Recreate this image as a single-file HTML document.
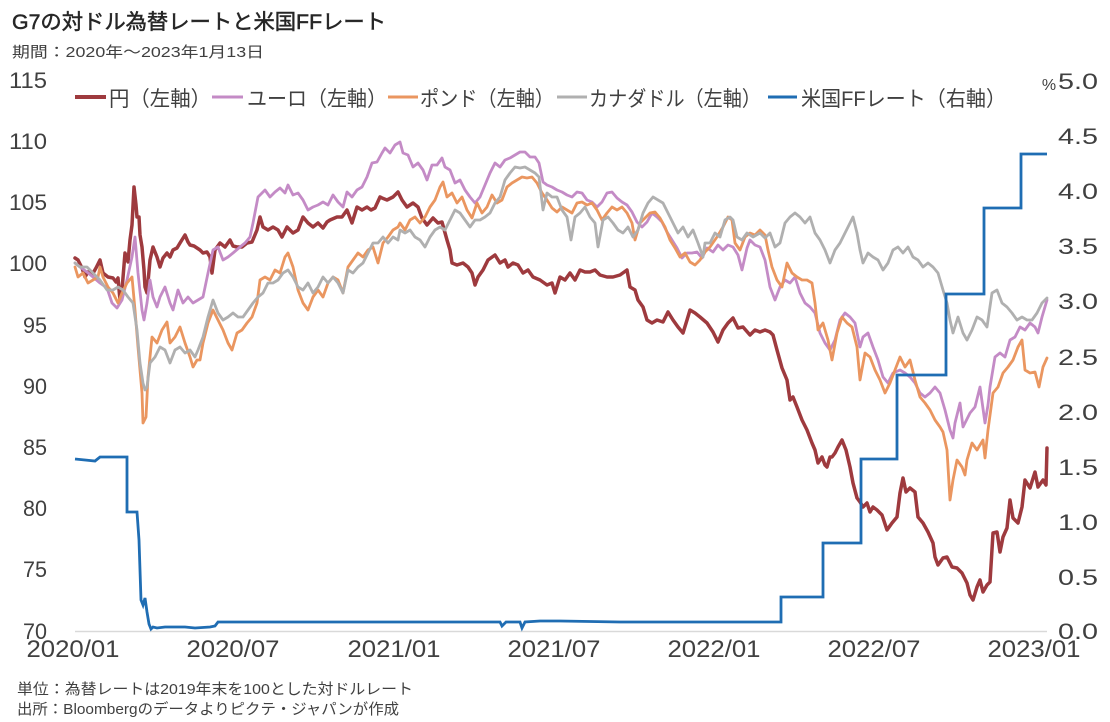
<!DOCTYPE html>
<html><head><meta charset="utf-8"><style>
html,body{margin:0;padding:0;background:#fff;}
svg{display:block;}
text{font-family:"Liberation Sans","Noto Sans CJK JP",sans-serif;fill:#404040;}
</style></head><body>
<svg width="1110" height="722" viewBox="0 0 1110 722" xmlns="http://www.w3.org/2000/svg">
<rect width="1110" height="722" fill="#fff"/>
<text x="12" y="29" font-size="21" style="fill:#262626;stroke:#262626;stroke-width:0.5" textLength="374" lengthAdjust="spacingAndGlyphs">G7の対ドル為替レートと米国FFレート</text>
<text x="12" y="57" font-size="15" textLength="252" lengthAdjust="spacingAndGlyphs">期間：2020年～2023年1月13日</text>

<g font-size="22" text-anchor="end">
<text x="47" y="88" textLength="38" lengthAdjust="spacingAndGlyphs">115</text>
<text x="47" y="149" textLength="38" lengthAdjust="spacingAndGlyphs">110</text>
<text x="47" y="210" textLength="38" lengthAdjust="spacingAndGlyphs">105</text>
<text x="47" y="271" textLength="38" lengthAdjust="spacingAndGlyphs">100</text>
<text x="47" y="333" textLength="24" lengthAdjust="spacingAndGlyphs">95</text>
<text x="47" y="394" textLength="24" lengthAdjust="spacingAndGlyphs">90</text>
<text x="47" y="455" textLength="24" lengthAdjust="spacingAndGlyphs">85</text>
<text x="47" y="516" textLength="24" lengthAdjust="spacingAndGlyphs">80</text>
<text x="47" y="577" textLength="24" lengthAdjust="spacingAndGlyphs">75</text>
<text x="47" y="639" textLength="24" lengthAdjust="spacingAndGlyphs">70</text>
</g>
<g font-size="22">
<text x="1058" y="89" textLength="40" lengthAdjust="spacingAndGlyphs">5.0</text>
<text x="1058" y="144" textLength="40" lengthAdjust="spacingAndGlyphs">4.5</text>
<text x="1058" y="199" textLength="40" lengthAdjust="spacingAndGlyphs">4.0</text>
<text x="1058" y="254" textLength="40" lengthAdjust="spacingAndGlyphs">3.5</text>
<text x="1058" y="309" textLength="40" lengthAdjust="spacingAndGlyphs">3.0</text>
<text x="1058" y="365" textLength="40" lengthAdjust="spacingAndGlyphs">2.5</text>
<text x="1058" y="420" textLength="40" lengthAdjust="spacingAndGlyphs">2.0</text>
<text x="1058" y="475" textLength="40" lengthAdjust="spacingAndGlyphs">1.5</text>
<text x="1058" y="530" textLength="40" lengthAdjust="spacingAndGlyphs">1.0</text>
<text x="1058" y="585" textLength="40" lengthAdjust="spacingAndGlyphs">0.5</text>
<text x="1058" y="639" textLength="40" lengthAdjust="spacingAndGlyphs">0.0</text>
</g>
<text x="1049" y="90" font-size="16" text-anchor="middle">%</text>

<g font-size="24" text-anchor="middle">
<text x="73" y="657" textLength="93" lengthAdjust="spacingAndGlyphs">2020/01</text>
<text x="233" y="657" textLength="93" lengthAdjust="spacingAndGlyphs">2020/07</text>
<text x="394" y="657" textLength="93" lengthAdjust="spacingAndGlyphs">2021/01</text>
<text x="554" y="657" textLength="93" lengthAdjust="spacingAndGlyphs">2021/07</text>
<text x="714" y="657" textLength="93" lengthAdjust="spacingAndGlyphs">2022/01</text>
<text x="874" y="657" textLength="93" lengthAdjust="spacingAndGlyphs">2022/07</text>
<text x="1034" y="657" textLength="93" lengthAdjust="spacingAndGlyphs">2023/01</text>
</g>

<text x="17" y="694" font-size="15" textLength="396" lengthAdjust="spacingAndGlyphs">単位：為替レートは2019年末を100とした対ドルレート</text>
<text x="17" y="714" font-size="15" textLength="382" lengthAdjust="spacingAndGlyphs">出所：Bloombergのデータよりピクテ・ジャパンが作成</text>

<!-- legend -->
<g font-size="21">
<line x1="75" y1="97" x2="106" y2="97" stroke="#9e3a3e" stroke-width="4"/>
<text x="109" y="106" textLength="102" lengthAdjust="spacingAndGlyphs">円（左軸）</text>
<line x1="212" y1="97" x2="243" y2="97" stroke="#c48bc6" stroke-width="3"/>
<text x="247" y="106" textLength="140" lengthAdjust="spacingAndGlyphs">ユーロ（左軸）</text>
<line x1="388" y1="97" x2="418" y2="97" stroke="#ea9660" stroke-width="3"/>
<text x="420" y="106" textLength="134" lengthAdjust="spacingAndGlyphs">ポンド（左軸）</text>
<line x1="557" y1="97" x2="587" y2="97" stroke="#b0b0b0" stroke-width="3"/>
<text x="589" y="106" textLength="172" lengthAdjust="spacingAndGlyphs">カナダドル（左軸）</text>
<line x1="768" y1="97" x2="797" y2="97" stroke="#1f6db3" stroke-width="3"/>
<text x="801" y="106" textLength="205" lengthAdjust="spacingAndGlyphs">米国FFレート（右軸）</text>
</g>

<!-- baseline -->
<line x1="75" y1="631.5" x2="1047" y2="631.5" stroke="#d9d9d9" stroke-width="1.5"/>

<g fill="none" stroke-linejoin="round" stroke-linecap="round">
<!-- Yen -->
<polyline stroke="#9e3a3e" stroke-width="3.5" points="75,258 78,260 82,268 85,277 88,272 92,275 96,268 100,260 103,273 108,277 113,278 116,282 118,278 120,300 122,290 125,253 128,262 130,240 132,225 134,187 136,205 137,217 139,217 140,235 142,247 144,270 145,287 147,293 150,260 153,247 157,257 160,267 163,258 167,253 170,257 173,250 177,248 180,243 185,235 188,242 190,245 194,246 197,248 200,250 203,253 207,252 210,257 212,273 215,250 220,243 225,247 230,240 233,246 237,247 242,247 247,243 252,242 257,230 260,217 263,227 268,230 273,227 278,230 282,237 287,227 293,233 298,230 303,217 308,223 313,227 318,223 323,228 327,222 330,220 337,217 342,217 347,210 352,223 357,207 362,210 367,207 371,210 375,208 380,197 382,198 387,200 393,197 398,192 402,200 407,207 413,203 418,207 422,218 427,225 433,218 438,223 442,222 447,240 450,250 452,263 457,265 463,263 468,267 472,273 475,285 478,277 483,270 488,260 495,255 500,263 505,260 508,267 513,263 518,265 523,273 528,270 533,277 540,280 547,285 552,283 555,293 560,277 565,280 570,273 575,280 580,270 585,272 590,272 595,270 600,275 607,277 613,277 620,275 627,270 630,287 635,290 638,300 643,307 647,320 652,323 657,320 663,322 668,312 673,320 678,327 683,333 687,320 690,310 695,313 700,317 707,323 713,332 718,342 723,330 728,323 733,318 738,328 743,327 750,335 755,330 760,332 765,330 770,332 773,335 777,350 782,368 787,380 790,400 793,397 797,407 802,420 807,430 812,443 815,450 818,463 822,457 825,465 827,467 830,457 832,457 835,453 838,447 842,440 846,450 850,467 853,483 857,498 860,502 863,507 867,503 870,512 873,507 877,510 882,515 887,530 892,523 897,517 900,493 903,478 906,492 910,488 915,492 918,517 923,523 928,532 933,543 935,557 938,565 943,558 947,557 952,567 957,568 962,573 967,583 970,595 973,600 977,587 980,580 983,592 987,585 990,582 993,533 997,532 1000,552 1003,537 1007,528 1010,500 1013,518 1018,523 1022,507 1025,480 1030,488 1035,472 1038,487 1043,480 1046,485 1047,448"/>
<!-- Euro -->
<polyline stroke="#c48bc6" stroke-width="2.8" points="75,263 80,267 87,272 93,277 100,283 107,288 112,303 117,308 122,300 127,280 132,257 135,237 138,273 142,310 144,320 147,303 150,280 153,297 157,307 160,297 165,287 170,303 173,310 178,290 183,303 188,297 193,303 198,300 203,297 208,273 213,250 218,247 223,260 228,257 233,253 240,247 245,243 250,237 253,223 258,197 262,193 265,190 270,197 275,192 280,188 285,193 288,185 293,195 298,193 303,200 308,210 313,207 318,205 323,202 328,205 333,195 338,202 343,207 347,192 352,197 357,190 362,187 367,177 372,163 377,162 382,153 385,148 390,153 395,145 400,142 403,153 408,155 413,167 418,163 423,170 427,180 432,165 437,165 442,158 445,167 450,170 455,183 460,180 465,190 470,197 475,203 480,197 485,185 490,173 495,163 500,167 505,160 510,158 515,155 520,152 525,152 530,157 535,157 539,163 543,182 547,185 552,187 557,190 562,192 567,195 572,197 577,192 582,193 587,200 592,202 597,207 602,202 607,193 612,192 617,198 622,202 627,205 632,212 637,222 642,227 647,222 652,213 657,217 662,222 667,232 672,240 677,248 682,258 687,253 692,253 697,252 702,258 707,248 713,252 718,245 723,250 728,245 733,247 738,255 742,270 747,248 750,240 755,245 760,247 765,260 770,287 775,300 780,287 785,280 790,283 795,277 800,293 805,303 810,307 815,313 820,333 825,343 830,350 835,340 840,320 845,313 850,317 855,323 860,347 863,337 868,333 873,347 878,360 883,377 888,383 893,373 900,370 905,373 910,377 915,383 920,393 925,397 930,393 935,387 940,393 945,410 950,430 953,438 955,423 960,403 963,427 965,423 970,413 975,407 980,387 985,423 988,405 990,387 995,357 1000,353 1005,357 1010,340 1015,337 1020,327 1025,330 1030,323 1035,327 1038,333 1042,317 1047,300"/>
<!-- Pound -->
<polyline stroke="#ea9660" stroke-width="2.8" points="75,267 78,277 83,273 88,283 93,280 98,277 100,267 103,277 108,287 113,293 118,303 122,293 127,283 132,277 135,310 138,347 142,393 143,423 146,417 148,377 152,337 157,343 162,330 167,322 170,343 175,337 180,327 185,343 190,357 193,367 197,360 200,360 203,343 208,323 213,310 218,320 223,330 228,343 232,350 237,333 242,330 247,323 252,317 257,303 260,280 265,277 270,280 275,270 280,273 285,257 288,253 293,267 298,290 303,303 308,310 313,297 318,290 323,297 328,283 333,277 338,280 343,293 348,267 353,260 358,253 363,257 368,250 373,247 378,263 383,243 388,237 393,230 398,227 400,223 405,230 410,220 415,217 420,223 425,217 430,207 435,200 440,187 443,182 447,197 452,193 457,203 462,197 467,210 472,218 477,203 482,213 487,207 492,195 497,203 502,200 507,187 512,183 517,180 522,177 527,178 532,177 537,183 542,193 547,200 552,208 557,212 562,207 567,210 572,213 577,203 582,202 587,205 592,203 597,210 602,220 607,213 612,207 617,210 622,207 627,213 632,223 635,240 640,223 645,218 650,213 655,212 660,218 665,227 670,240 675,248 680,257 685,253 690,262 695,265 700,260 705,252 710,247 717,237 723,227 728,217 732,220 735,243 740,250 745,237 750,233 755,235 760,230 765,235 768,250 772,267 777,280 782,287 787,263 792,273 797,277 802,280 807,280 812,283 815,303 818,330 823,323 828,340 832,360 837,333 842,317 847,323 852,327 857,347 860,380 865,353 870,357 875,370 880,380 885,393 890,383 895,370 900,357 905,367 910,360 915,380 920,397 925,403 930,410 935,420 940,427 943,432 947,450 950,500 953,480 957,460 962,467 965,475 967,460 972,443 977,450 983,440 985,458 988,430 993,393 998,387 1003,373 1008,367 1013,360 1018,347 1022,340 1025,370 1030,373 1035,372 1039,387 1043,367 1047,358"/>
<!-- CAD -->
<polyline stroke="#b0b0b0" stroke-width="2.8" points="75,263 80,267 87,267 93,273 100,280 107,290 113,290 118,287 123,290 128,297 133,303 137,330 140,363 143,383 145,390 147,387 150,363 155,357 160,347 165,350 170,363 175,350 180,347 185,353 190,350 195,357 198,350 203,337 208,317 213,300 218,313 223,320 228,317 233,313 238,317 243,317 248,310 253,303 258,297 263,293 268,283 273,283 278,280 283,273 288,270 293,277 298,287 303,290 308,283 313,293 318,287 323,277 328,283 333,277 338,283 343,293 348,270 353,273 358,267 363,263 368,253 373,243 378,243 383,237 388,243 393,237 398,240 400,230 405,233 410,230 415,237 420,240 425,247 430,237 435,230 440,227 445,230 450,220 455,210 460,213 465,220 470,227 475,220 480,220 485,217 490,213 495,203 500,197 505,180 510,173 515,167 520,168 525,167 530,170 535,173 539,177 543,210 547,193 552,197 557,197 562,210 567,217 571,240 575,217 580,213 585,207 590,217 595,223 598,247 603,220 608,217 613,223 618,230 623,233 628,227 633,237 638,230 643,213 648,203 653,197 658,200 663,203 668,213 673,223 678,233 683,227 688,237 693,230 698,243 703,257 705,243 710,243 715,233 720,237 725,220 730,217 733,220 737,237 742,240 747,233 753,237 760,233 765,238 770,233 775,247 780,243 785,223 790,217 795,213 800,217 805,223 810,217 815,233 820,240 825,250 830,263 835,250 840,243 845,233 850,223 853,217 857,233 860,250 863,263 868,253 873,257 878,260 883,270 888,263 893,250 898,247 903,253 908,247 913,257 918,260 923,267 928,263 933,267 938,273 943,290 947,303 950,320 953,333 958,317 963,333 967,340 972,330 977,317 982,320 987,327 992,293 997,290 1002,303 1007,307 1012,313 1017,320 1022,317 1027,320 1032,320 1037,313 1042,303 1047,298"/>
<!-- FF rate -->
<polyline stroke="#1f6db3" stroke-width="2.8" stroke-linejoin="miter" stroke-linecap="butt" points="75,459 85,460 95,461 100,457 127,457 127,512 137,512 139,540 141,600 143,605 145,598 147,612 149,624 151,629 153,627 157,628 165,627 185,627 195,628 210,627 215,626 218,622 500,622 502,626 506,622 520,622 522,628 525,622 540,621 560,621 620,622 781,622 781,597 823,597 823,543 861,543 861,459 897,459 897,375 946,375 946,294 984,294 984,208 1021,208 1021,154 1047,154"/>
</g>
</svg>
</body></html>
